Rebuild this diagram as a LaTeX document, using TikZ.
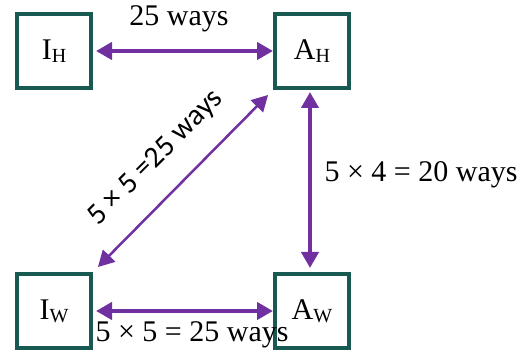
\documentclass[tikz,border=0pt]{standalone}
\usepackage{fontspec}
\setmainfont{Liberation Serif}
\newfontfamily\calfont{Carlito}
\usetikzlibrary{arrows.meta,calc}
\definecolor{boxteal}{RGB}{24,90,82}
\definecolor{arrpurple}{RGB}{112,48,160}
\begin{document}
\begin{tikzpicture}[x=1pt,y=1pt,
  box/.style={draw=boxteal,line width=4pt,minimum width=74pt,minimum height=74pt,inner sep=0pt,font=\fontsize{30}{36}\selectfont},
  arr/.style={draw=arrpurple,line width=4pt,{Triangle[length=16pt,width=17pt]}-{Triangle[length=16pt,width=17pt]}},
  lbl/.style={font=\fontsize{30}{36}\selectfont,inner sep=0pt}]
\useasboundingbox (0,0) rectangle (528,352);
\newcommand{\sub}[1]{\raisebox{-3pt}{\fontsize{20}{20}\selectfont #1}}
\node[box] (ih) at (54,301) {I\sub{H}};
\node[box] (ah) at (312,301) {A\sub{H}};
\node[box] (iw) at (54,41) {I\sub{W}};
\node[box] (aw) at (312,41) {A\sub{W}};
\draw[arr,shorten <=3pt] (ih.east) -- (ah.west);
\draw[arr,shorten <=3pt] (iw.east) -- (aw.west);
\draw[arr,shorten <=2pt,shorten >=4pt] ([xshift=-2pt]ah.south) -- ([xshift=-2pt]aw.north);
\draw[arr,line width=2.5pt,shorten <=7pt,shorten >=7pt] (iw.north east) -- (ah.south west);
\node[lbl] (t1) at (179,333) {25 ways};
\node[lbl] (t2) at (421,177) {5 × 4 = 20 ways};
\node[lbl] (t3) at (192,17) {5 × 5 = 25 ways};
\node[font=\calfont\fontsize{30}{36}\selectfont,inner sep=0pt,rotate=45] (t4) at (156,194) {5 × 5 =25 ways};
\end{tikzpicture}
\end{document}
